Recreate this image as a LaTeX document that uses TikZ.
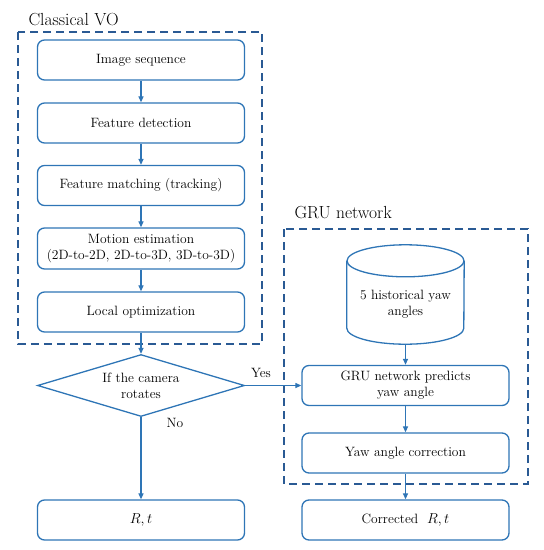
\documentclass[tikz,border=0pt]{standalone}
\usepackage{amssymb,amsmath}
\usepackage{tikz}
\usepackage{xcolor}
\usetikzlibrary{shapes.geometric,arrows.meta}

\definecolor{flowblue}{RGB}{46,117,182}
\definecolor{groupblue}{RGB}{42,90,148}

\begin{document}
\begin{tikzpicture}[
    x=1pt, y=-1pt,
    every node/.style={font=\fontsize{13.5}{16}\selectfont},
    box/.style={draw=flowblue, line width=1.3pt, rounded corners=7pt, minimum width=207pt, minimum height=40pt, inner sep=2pt, align=center},
    decision/.style={diamond, draw=flowblue, line width=1.3pt, aspect=3.34, inner sep=0pt, minimum width=207pt, minimum height=62pt, align=center},
    store/.style={minimum width=117pt, minimum height=99pt, inner sep=0pt},
    outline/.style={draw=flowblue, line width=1.3pt},
    group/.style={draw=groupblue, line width=1.4pt, dash pattern=on 8pt off 5pt},
    title/.style={font=\fontsize{17.5}{20}\selectfont, anchor=base west},
    flow/.style={draw=flowblue, line width=1.2pt, -{Triangle[length=6pt,width=5pt]}}
]
  \useasboundingbox (0,0) rectangle (544,550);

  % Classical VO
  \draw[group] (18,32) rectangle (262,344);
  \node[title] (votitle) at (25,25) {Classical VO};
  \node[box] (img) at (141,60) {Image sequence};
  \node[box] (det) at (141,123) {Feature detection};
  \node[box] (match) at (141,185.5) {Feature matching (tracking)};
  \node[box, minimum height=41pt] (motion) at (141,248.5) {Motion estimation\\(2D-to-2D, 2D-to-3D, 3D-to-3D)};
  \node[box] (opt) at (141,312) {Local optimization};

  % Decision
  \node[decision] (rot) at (141,385.5) {If the camera\\rotates};
  \node[box] (rt) at (141,520) {$R,t$};

  % GRU network
  \draw[group] (284,229) rectangle (528,484);
  \node[title] (grutitle) at (291,218) {GRU network};
  \node[store] (hist) at (405.5,294.5) {};
  \node[align=center, yshift=-10pt] (histlabel) at (hist.center) {5 historical yaw\\angles};
  \node[box] (gru) at (405.5,385.5) {GRU network predicts\\yaw angle};
  \node[box] (yaw) at (405.5,453) {Yaw angle correction};
  \node[box] (corr) at (405.5,520) {Corrected\ \ $R,t$};

  % Cylinder
  \draw[outline] ([yshift=-16pt]hist.north west) -- ([yshift=16pt]hist.south west)
    arc[start angle=180, end angle=360, x radius=58.5pt, y radius=16pt]
    -- ([yshift=-16pt]hist.north east);
  \draw[outline] ([yshift=-16pt]hist.north) ellipse [x radius=58.5pt, y radius=16pt];

  % Arrows
  \draw[flow] (img) -- (det);
  \draw[flow] (det) -- (match);
  \draw[flow] (match) -- (motion);
  \draw[flow] (motion) -- (opt);
  \draw[flow] (opt) -- (rot);
  \draw[flow] (rot) -- (rt);
  \draw[flow] (rot) -- (gru);
  \draw[flow] (hist) -- (gru);
  \draw[flow] (gru) -- (yaw);
  \draw[flow] (yaw) -- (corr);

  % Branch labels
  \node[anchor=base] (yes) at (261,377) {Yes};
  \node[anchor=base] (no) at (175,427) {No};
\end{tikzpicture}
\end{document}
